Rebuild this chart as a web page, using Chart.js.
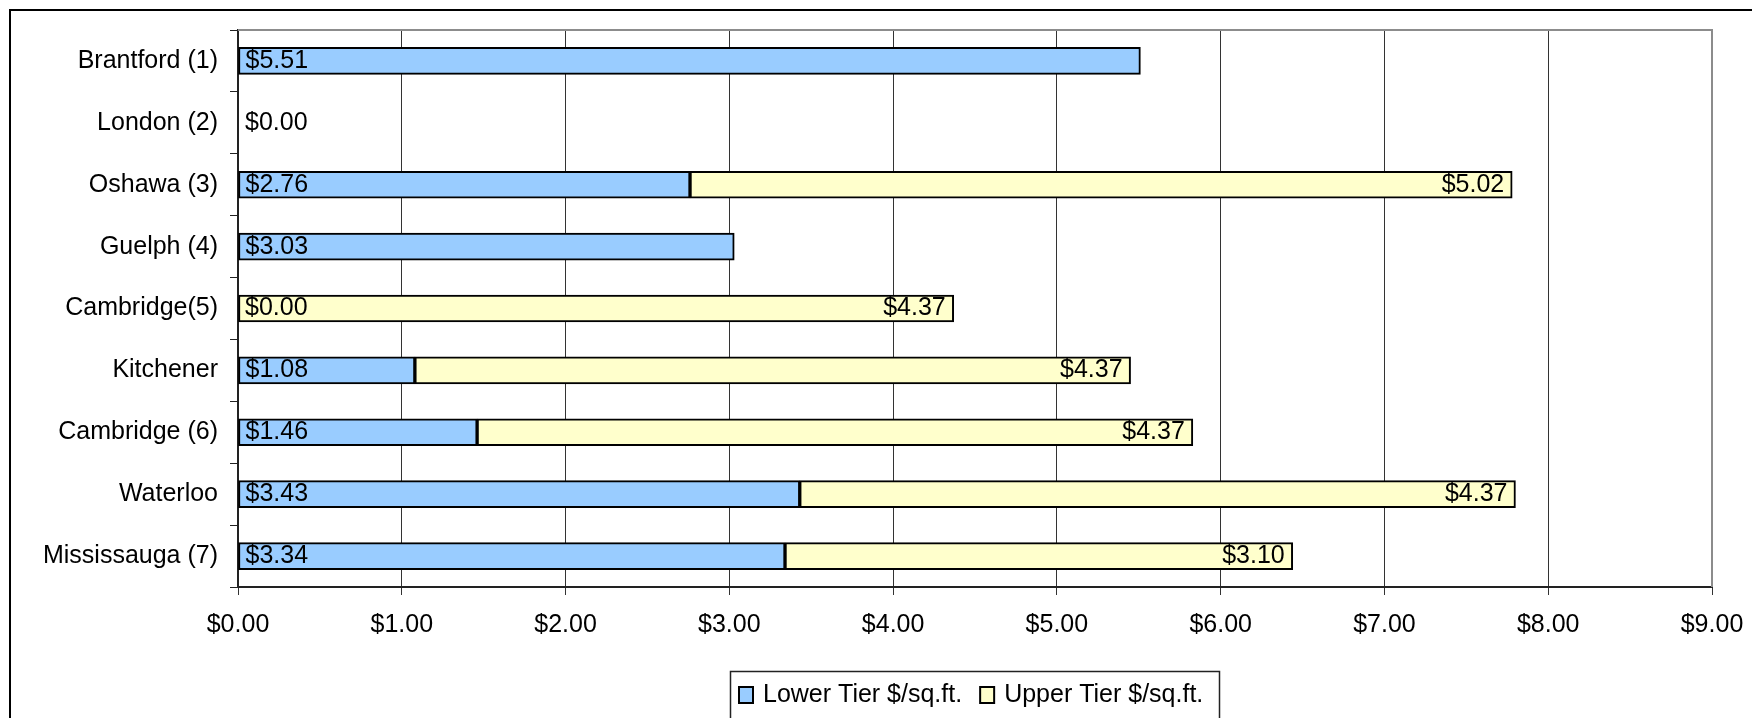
<!DOCTYPE html>
<html>
<head>
<meta charset="utf-8">
<script src="https://cdn.jsdelivr.net/npm/chart.js@4/dist/chart.umd.min.js"></script>
<style>
  html, body { margin: 0; padding: 0; background: #fff; }
  #wrap { width: 1752px; height: 718px; }
</style>
</head>
<body>
<div id="wrap"><canvas id="tierChart" width="1752" height="718"></canvas></div>
<script>
// Chart data
const cities = ['Brantford (1)', 'London (2)', 'Oshawa (3)', 'Guelph (4)', 'Cambridge(5)',
    'Kitchener', 'Cambridge (6)', 'Waterloo', 'Mississauga (7)'];
const lowerTier = [5.51, 0, 2.76, 3.03, 0, 1.08, 1.46, 3.43, 3.34];
const upperTier = [null, null, 5.02, null, 4.37, 4.37, 4.37, 4.37, 3.10];
const seriesNames = ['Lower Tier $/sq.ft.', 'Upper Tier $/sq.ft.'];
const seriesColors = ['#99ccff', '#ffffcc'];
const xMin = 0, xMax = 9, xStep = 1;

const FONT = '"Liberation Sans", Arial, sans-serif';
const FONT_SIZE = 25;
const money = v => '$' + Number(v).toFixed(2);

// outer frame, plot border and the boxed legend
const framePlugin = {
    id: 'frame',
    beforeDraw(chart) {
        const ctx = chart.ctx;
        ctx.save();
        ctx.fillStyle = '#fff';
        ctx.fillRect(0, 0, chart.width, chart.height);
        ctx.strokeStyle = '#000';
        ctx.lineWidth = 2;
        ctx.strokeRect(10, 10, chart.width, chart.height);
        ctx.restore();
    },
    afterDraw(chart) {
        const ctx = chart.ctx;
        const a = chart.chartArea;
        ctx.save();
        ctx.strokeStyle = '#8c8c8c';
        ctx.lineWidth = 2;
        ctx.beginPath();
        ctx.moveTo(a.left, a.top);
        ctx.lineTo(a.right, a.top);
        ctx.lineTo(a.right, a.bottom);
        ctx.stroke();

        // legend
        const boxL = 730, boxR = 1219, boxT = 671;
        ctx.strokeStyle = '#222';
        ctx.lineWidth = 1.5;
        ctx.strokeRect(boxL + 0.5, boxT + 0.5, boxR - boxL, chart.height);
        ctx.font = FONT_SIZE + 'px ' + FONT;
        ctx.textBaseline = 'middle';
        ctx.textAlign = 'left';
        let x = 739;
        const cy = 695;
        chart.data.datasets.forEach((ds, i) => {
            ctx.fillStyle = ds.backgroundColor;
            ctx.fillRect(x, cy - 8, 14, 16);
            ctx.strokeStyle = '#000';
            ctx.lineWidth = 2;
            ctx.strokeRect(x, cy - 8, 14, 16);
            ctx.fillStyle = '#000';
            ctx.fillText(ds.label, x + 24, cy);
            x += 24 + ctx.measureText(ds.label).width + 18;
        });
        ctx.restore();
    }
};

// value labels: lower tier at the base, upper tier at the end
const labelPlugin = {
    id: 'valueLabels',
    afterDatasetsDraw(chart) {
        const ctx = chart.ctx;
        ctx.save();
        ctx.font = FONT_SIZE + 'px ' + FONT;
        ctx.fillStyle = '#000';
        ctx.textBaseline = 'middle';
        chart.data.datasets.forEach((ds, di) => {
            const meta = chart.getDatasetMeta(di);
            meta.data.forEach((bar, i) => {
                const v = ds.data[i];
                if (v === null || v === undefined) return;
                if (di === 0) {
                    ctx.textAlign = 'left';
                    ctx.fillText(money(v), Math.min(bar.base, bar.x) + 7, bar.y);
                } else {
                    ctx.textAlign = 'right';
                    ctx.fillText(money(v), Math.max(bar.base, bar.x) - 8, bar.y);
                }
            });
        });
        ctx.restore();
    }
};

new Chart(document.getElementById('tierChart').getContext('2d'), {
    type: 'bar',
    data: {
        labels: cities,
        datasets: [{
            label: seriesNames[0],
            data: lowerTier,
            backgroundColor: seriesColors[0],
            borderColor: '#000',
            borderWidth: 2,
            borderSkipped: false,
            barThickness: 27
        }, {
            label: seriesNames[1],
            data: upperTier,
            backgroundColor: seriesColors[1],
            borderColor: '#000',
            borderWidth: 2,
            borderSkipped: false,
            barThickness: 27
        }]
    },
    options: {
        indexAxis: 'y',
        responsive: false,
        animation: false,
        layout: { padding: { top: 30, right: 40, bottom: 0, left: 0 } },
        plugins: {
            tooltip: { enabled: false },
            legend: { display: false }
        },
        scales: {
            x: {
                stacked: true,
                min: xMin,
                max: xMax,
                afterFit: s => {
                    s.height = 131;
                    s.paddingLeft = 0;
                    s.paddingRight = 0;
                },
                ticks: {
                    stepSize: xStep,
                    callback: v => money(v),
                    font: { family: FONT, size: FONT_SIZE },
                    color: '#000',
                    padding: 15,
                    maxRotation: 0
                },
                grid: { color: '#333', lineWidth: 1, tickLength: 8, drawTicks: true },
                border: { color: '#222', width: 2 }
            },
            y: {
                stacked: true,
                afterFit: s => { s.width = 238; },
                ticks: {
                    font: { family: FONT, size: FONT_SIZE },
                    color: '#000',
                    padding: 12
                },
                grid: { drawOnChartArea: false, offset: true, tickLength: 8, color: '#222', lineWidth: 1 },
                border: { color: '#222', width: 2 }
            }
        }
    },
    plugins: [framePlugin, labelPlugin]
});
</script>
</body>
</html>
